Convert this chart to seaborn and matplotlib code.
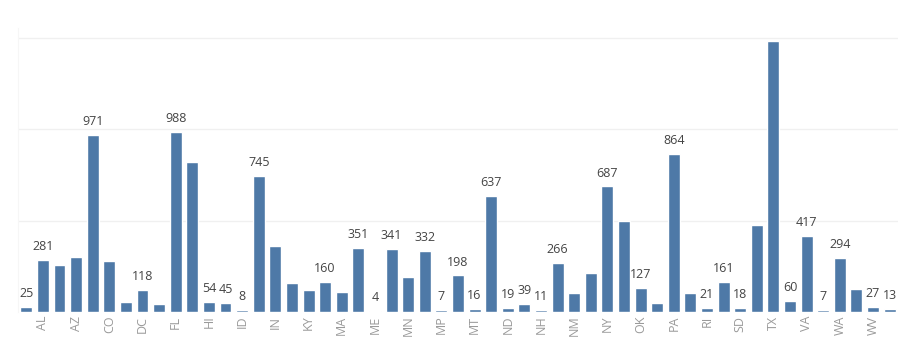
import pandas as pd
import numpy as np
import matplotlib
matplotlib.use('Agg')
import matplotlib.pyplot as plt
import seaborn as sns

# states in alphabetical order, one bar each
states = ['AK', 'AL', 'AR', 'AZ', 'CA', 'CO', 'CT', 'DC', 'DE', 'FL',
          'GA', 'HI', 'IA', 'ID', 'IL', 'IN', 'KS', 'KY', 'LA', 'MA',
          'MD', 'ME', 'MI', 'MN', 'MO', 'MP', 'MS', 'MT', 'NC', 'ND',
          'NE', 'NH', 'NJ', 'NM', 'NV', 'NY', 'OH', 'OK', 'OR', 'PA',
          'PR', 'RI', 'SC', 'SD', 'TN', 'TX', 'UT', 'VA', 'VT', 'WA',
          'WI', 'WV', 'WY']
counts = [25, 281, 255, 301, 971, 277, 50, 118, 41, 988,
          822, 54, 45, 8, 745, 361, 155, 118, 160, 105,
          351, 4, 341, 191, 332, 7, 198, 16, 637, 19,
          39, 11, 266, 100, 213, 687, 497, 127, 48, 864,
          100, 21, 161, 18, 475, 1485, 60, 417, 7, 294,
          124, 27, 13]
# bars that carry a value label in the original
labelled = ['AK', 'AL', 'CA', 'DC', 'FL', 'HI', 'IA', 'ID', 'IL', 'LA',
            'MD', 'ME', 'MI', 'MO', 'MP', 'MS', 'MT', 'NC', 'ND', 'NE',
            'NH', 'NJ', 'NY', 'OK', 'PA', 'RI', 'SC', 'SD', 'UT', 'VA',
            'VT', 'WA', 'WV', 'WY']
# only every other state gets an axis label
tick_states = states[1::2]
grid_values = [500, 1000, 1500]

df = pd.DataFrame({'state': states, 'count': counts})

sns.set_style('white')
plt.rcParams['font.family'] = ['Open Sans', 'DejaVu Sans']

fig = plt.figure(figsize=(9.22, 3.51), dpi=100)
ax = fig.add_axes([0.0195, 0.1125, 0.9544, 0.809])

sns.barplot(data=df, x='state', y='count', color='#4e79a7', saturation=1,
            width=0.72, ax=ax)

ax.set_ylim(0, 1560)
ax.set_yticks(grid_values)
ax.set_yticklabels([])
ax.tick_params(axis='y', length=0)
for g in grid_values:
    ax.axhline(g, color='#f0f0f0', lw=1, zorder=0)

ax.set_xticks([states.index(s) for s in tick_states])
ax.set_xticklabels(tick_states, rotation=90, color='#9a9a9a', fontsize=9)
ax.tick_params(axis='x', length=0, pad=3)
ax.set_xlabel('')
ax.set_ylabel('')

labels = [str(c) if s in labelled else '' for s, c in zip(states, counts)]
ax.bar_label(ax.containers[0], labels=labels, padding=5, fontsize=9,
             color='#444444')

for side in ['top', 'right', 'bottom']:
    ax.spines[side].set_visible(False)
ax.spines['left'].set_color('#f6f6f6')

fig.savefig('out.png', dpi=100)
